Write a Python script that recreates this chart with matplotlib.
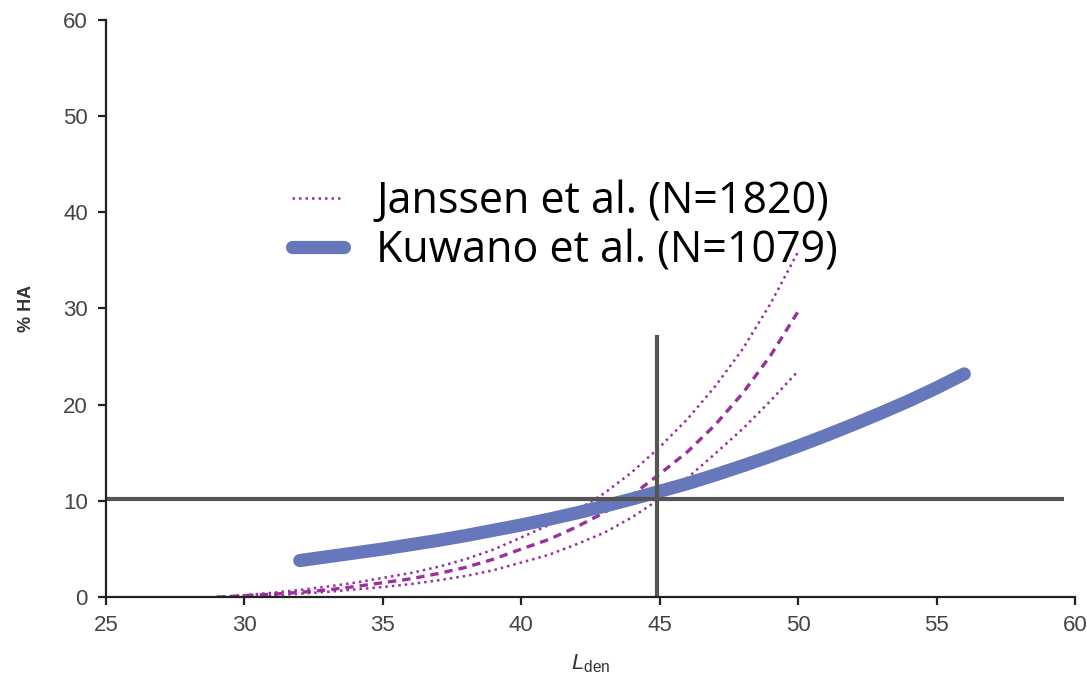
import matplotlib
matplotlib.use('Agg')
import matplotlib.pyplot as plt

# Janssen et al. curves (mean and bounds)
janssen_x = [29, 30, 31, 32, 33, 34, 35, 36, 37, 38, 39, 40,
             41, 42, 43, 44, 45, 46, 47, 48, 49, 50]
janssen_mid = [0.0, 0.15, 0.3, 0.5, 0.75, 1.1, 1.5, 1.9, 2.45, 3.1, 3.95, 5.0,
               6.0, 7.3, 8.8, 10.6, 12.8, 15.1, 17.9, 21.2, 25.1, 29.7]
janssen_up = [0.0, 0.2, 0.45, 0.75, 1.1, 1.5, 2.0, 2.5, 3.15, 3.95, 4.95, 6.2,
              7.5, 9.0, 10.8, 13.0, 15.6, 18.5, 21.9, 25.8, 30.5, 35.9]
janssen_low = [0.0, 0.1, 0.2, 0.35, 0.55, 0.8, 1.05, 1.35, 1.75, 2.2, 2.8, 3.6,
               4.4, 5.5, 6.7, 8.3, 10.2, 12.4, 14.9, 17.5, 20.4, 23.5]

# Kuwano et al.
kuwano_x = [32, 33, 34, 35, 36, 37, 38, 39, 40, 41, 42, 43, 44,
            45, 46, 47, 48, 49, 50, 51, 52, 53, 54, 55, 56]
kuwano_y = [3.8, 4.2, 4.6, 5.0, 5.45, 5.9, 6.4, 6.95, 7.5, 8.1, 8.75, 9.45, 10.2,
            11.0, 11.8, 12.7, 13.65, 14.65, 15.7, 16.8, 17.95, 19.15, 20.4, 21.75, 23.2]

# reference lines
ref_level = 10.2
ref_lden = 44.9
ref_top = 27.2

purple = '#9a2f9e'
blue = '#6677bb'
grey = '#555555'

plt.rcParams['mathtext.fontset'] = 'custom'
plt.rcParams['mathtext.it'] = 'Liberation Sans:italic'
plt.rcParams['mathtext.rm'] = 'Liberation Sans'

fig = plt.figure(figsize=(10.87, 6.84), dpi=100)
ax = fig.add_axes([0.0975, 0.127, 0.8915, 0.844])

ax.plot(janssen_x, janssen_up, color=purple, lw=1.8, ls=(0, (1, 1.6)), label='Janssen et al. (N=1820)')
ax.plot(janssen_x, janssen_low, color=purple, lw=1.8, ls=(0, (1, 1.6)))
ax.plot(janssen_x, janssen_mid, color=purple, lw=2.4, ls=(0, (2.5, 1.8)))
ax.plot(kuwano_x, kuwano_y, color=blue, lw=9.5, solid_capstyle='round', label='Kuwano et al. (N=1079)')

ax.plot([25, 59.6], [ref_level, ref_level], color=grey, lw=3, solid_capstyle='butt')
ax.plot([ref_lden, ref_lden], [0, ref_top], color=grey, lw=3, solid_capstyle='butt')

ax.set_xlim(25, 60)
ax.set_ylim(0, 60)
ax.set_xticks(range(25, 61, 5))
ax.set_yticks(range(0, 61, 10))
for s in ['top', 'right']:
    ax.spines[s].set_visible(False)
for s in ['left', 'bottom']:
    ax.spines[s].set_linewidth(1.6)
    ax.spines[s].set_color('#222222')
ax.tick_params(direction='out', length=6, width=1.6, color='#222222',
               labelsize=16, labelcolor='#444444', pad=7)
for lab in ax.get_xticklabels() + ax.get_yticklabels():
    lab.set_family('Liberation Sans')

ax.set_xlabel(r'$L_{\mathrm{den}}$', fontsize=16, color='#333333', labelpad=12)
ax.set_ylabel('% HA', fontsize=13, fontweight='bold', color='#333333',
              family='Liberation Sans', labelpad=20)

leg = ax.legend(loc='upper left', bbox_to_anchor=(0.152, 0.79), frameon=False,
                prop={'family': 'Open Sans', 'size': 31}, handlelength=1.2,
                handletextpad=0.75, labelspacing=0.1)

fig.savefig('out.png', dpi=100)
